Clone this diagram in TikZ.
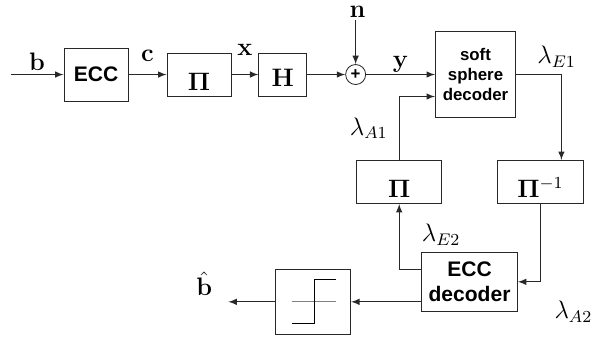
\documentclass[tikz,border=0pt]{standalone}
\usepackage{amsmath,amssymb}
\usepackage[no-math]{fontspec}
\setsansfont{Liberation Sans}
\usepackage{tikz}
\usetikzlibrary{arrows, positioning, calc}
\definecolor{LineGray}{RGB}{40, 40, 40}

\begin{document}
\begin{tikzpicture}[
                    >=latex,
                    box/.style={rectangle, draw=LineGray, fill=white, font=\sffamily\bfseries, align=center, inner sep=2pt},
                    lab/.style={font=\large, inner sep=1pt},
                    link/.style={->, draw=LineGray}
                ]
                    \useasboundingbox (0,0) rectangle (10.1,-5.645);
                    \node[box, minimum width=1.07cm, minimum height=0.885cm] (ecc) at (1.603,-1.244) {ECC};
                    \node[box, minimum width=1.07cm, minimum height=0.72cm, right=0.635cm of ecc] (pi) {\large$\mathbf{\Pi}$\rule{0pt}{0.52cm}};
                    \node[box, minimum width=0.80cm, minimum height=0.72cm, right=0.45cm of pi] (chan) {\large$\mathbf{H}$\rule{0pt}{0.39cm}};
                    \node[circle, draw=LineGray, minimum size=0.334cm, inner sep=0pt, font=\sffamily\bfseries\footnotesize, right=0.635cm of chan] (sum) {+};
                    \node[box, minimum width=1.34cm, minimum height=1.44cm, font=\sffamily\bfseries\footnotesize, right=1.15cm of sum] (ssd) {soft\\sphere\\decoder};
                    \node[box, minimum width=1.44cm, minimum height=0.72cm, below right=0.70cm and -0.32cm of ssd] (deint) {\large$\mathbf{\Pi}^{-1}$\rule{0pt}{0.52cm}};
                    \node[box, minimum width=1.42cm, minimum height=0.72cm, below left=0.70cm and -0.12cm of ssd] (inter) {\large$\mathbf{\Pi}$\rule{0pt}{0.52cm}};
                    \node[box, minimum width=1.60cm, minimum height=0.985cm, below left=0.80cm and -0.35cm of deint] (dec) {ECC\\decoder};
                    \node[box, minimum width=1.25cm, minimum height=1.085cm, left=1.17cm of dec, yshift=-0.334cm] (slicer) {};

                    \coordinate[left=0.885cm of ecc.west] (bin);
                    \coordinate[above=0.735cm of sum.north] (nin);
                    \coordinate[left=0.785cm of slicer.west] (bout);

                    \draw[link] (bin) -- node[lab, above=0.03cm] {$\mathbf{b}$} (ecc);
                    \draw[link] (ecc) -- node[lab, above=0.18cm] {$\mathbf{c}$} (pi);
                    \draw[link] (pi) -- node[lab, above=0.27cm] {$\mathbf{x}$} (chan);
                    \draw[link] (chan) -- (sum);
                    \draw[link] (nin) node[lab, above=0cm, xshift=0.03cm] {$\mathbf{n}$} -- (sum);
                    \draw[link] (sum) -- node[lab, above=0cm] {$\mathbf{y}$} (ssd);
                    \draw[link] (ssd.east) -| node[lab, pos=0.5, above=0.08cm, xshift=-0.08cm] {$\lambda_{E1}$} ([xshift=0.35cm]deint.north);
                    \draw[link] (inter.north) |- node[lab, pos=0.25, left=0.15cm] {$\lambda_{A1}$} ([yshift=-0.367cm]ssd.west);
                    \draw[link] (deint.south) |- (dec.east);
                    \draw[link] ([yshift=0.21cm]dec.west) -| (inter.south);
                    \draw[link] (slicer.east -| dec.west) -- (slicer.east);
                    \draw[link] (slicer) -- (bout);

                    \node[lab, above left=0.06cm and 0.23cm of bout] (bhat) {$\hat{\mathbf{b}}$};
                    \node[lab, above right=0.07cm and -0.03cm of dec.north west] (le2) {$\lambda_{E2}$};
                    \node[lab, right=0.57cm of dec.south east] (la2) {$\lambda_{A2}$};

                    \draw[gray] ($(slicer.center)+(-0.36,0)$) -- ($(slicer.center)+(0.375,0)$);
                    \draw[black] ($(slicer.center)+(-0.36,-0.36)$) -- ++(0.385,0) -- ++(0,0.735) -- ++(0.35,0);
                \end{tikzpicture}
\end{document}
